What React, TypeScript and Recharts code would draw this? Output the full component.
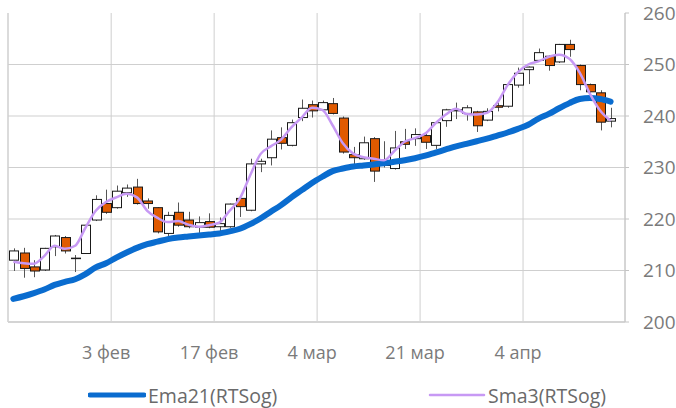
import {
  ComposedChart,
  Bar,
  Line,
  XAxis,
  YAxis,
  CartesianGrid,
  Legend,
  ReferenceLine,
} from "recharts";

// daily candles, RTSog
const OPEN = [
  212.0, 213.4, 210.7, 210.1, 214.6, 216.4, 212.3, 213.3, 219.8, 223.0,
  222.2, 225.1, 226.2, 223.5, 222.2, 217.2, 221.3, 219.8, 218.4, 219.5,
  218.5, 218.5, 224.0, 221.7, 230.7, 231.9, 235.8, 234.3, 239.7, 242.2,
  241.2, 242.4, 239.6, 232.5, 231.7, 235.6, 230.4, 229.8, 235.0, 235.6,
  236.2, 234.3, 239.1, 241.0, 240.5, 240.8, 239.2, 242.0, 241.9, 246.0,
  249.0, 250.8, 251.6, 250.5, 253.9, 249.8, 246.1, 244.5, 239.0,
];
const CLOSE = [
  213.8, 210.4, 209.9, 214.3, 216.7, 213.8, 212.4, 218.8, 223.8, 221.3,
  225.4, 226.0, 223.0, 223.0, 217.5, 220.7, 218.8, 218.5, 219.3, 218.4,
  219.1, 222.9, 222.4, 230.7, 231.2, 235.5, 234.7, 238.7, 241.5, 241.0,
  242.6, 240.5, 233.0, 231.9, 234.8, 229.3, 230.6, 233.8, 234.5, 236.4,
  234.9, 238.7, 241.2, 241.2, 241.6, 238.1, 240.9, 241.7, 246.1, 248.3,
  249.5, 252.3, 249.8, 253.9, 252.9, 246.1, 244.7, 238.8, 239.5,
];
const HIGH = [
  214.3, 214.4, 212.0, 214.4, 216.9, 216.7, 213.0, 218.9, 224.6, 225.7,
  226.5, 226.7, 227.8, 224.0, 222.3, 221.4, 223.2, 221.4, 220.5, 221.1,
  220.3, 223.0, 224.1, 231.7, 231.7, 237.2, 237.8, 239.3, 243.2, 243.0,
  243.0, 243.5, 239.9, 234.0, 236.0, 235.9, 235.1, 237.1, 237.5, 237.6,
  236.5, 238.9, 241.4, 242.6, 242.1, 241.0, 241.5, 242.6, 246.2, 249.4,
  249.6, 253.1, 251.8, 254.0, 254.8, 250.0, 246.3, 245.0, 241.6,
];
const LOW = [
  209.9, 208.6, 208.7, 209.9, 212.8, 213.3, 209.7, 213.2, 219.6, 221.0,
  222.0, 224.3, 222.8, 222.0, 217.2, 216.7, 218.5, 218.2, 217.3, 218.2,
  217.3, 218.3, 220.4, 221.5, 229.1, 230.4, 233.5, 234.1, 239.0, 239.7,
  241.0, 240.3, 232.7, 230.6, 231.5, 227.2, 230.0, 229.6, 233.6, 234.2,
  233.6, 233.6, 237.9, 239.4, 239.1, 236.9, 239.0, 240.9, 241.6, 245.5,
  246.2, 250.6, 248.8, 250.3, 251.5, 245.0, 244.4, 237.2, 237.8,
];
const EMA21 = [
  204.5, 205.0, 205.6, 206.3, 207.2, 207.8, 208.3, 209.3, 210.6, 211.4,
  212.5, 213.5, 214.4, 215.1, 215.6, 216.1, 216.4, 216.6, 216.8, 217.0,
  217.2, 217.6, 218.1, 219.0, 220.1, 221.4, 222.7, 224.2, 225.6, 227.0,
  228.2, 229.3, 229.8, 230.2, 230.4, 230.6, 230.8, 231.1, 231.4, 231.8,
  232.3, 232.9, 233.5, 234.1, 234.6, 235.1, 235.6, 236.2, 236.8, 237.5,
  238.3, 239.5, 240.4, 241.5, 242.5, 243.3, 243.5, 243.3, 242.8,
];
const SMA3 = [
  211.7, 211.4, 211.3, 212.8, 214.8, 214.2, 214.8, 218.3, 221.6, 223.3,
  224.2, 224.9, 224.2, 221.6, 220.2, 219.4, 219.6, 218.9, 218.5, 218.8,
  219.3, 221.6, 224.0, 228.5, 232.6, 234.1, 235.4, 237.8, 239.7, 241.6,
  241.2, 238.2, 234.7, 232.7, 232.0, 231.7, 231.4, 233.2, 235.0, 235.7,
  236.6, 238.6, 240.3, 241.4, 240.4, 240.3, 240.6, 242.6, 246.0, 248.5,
  250.0, 250.6, 251.5, 251.9, 251.1, 248.4, 244.3, 241.0, 239.1,
];

const DATE_LABELS = ["3 фев", "17 фев", "4 мар", "21 мар", "4 апр"];
const DATE_TICKS = [9.5, 19.5, 29.5, 39.5, 49.5];
const Y_TICKS = [200, 210, 220, 230, 240, 250, 260];
const X_MIN = -0.52;
const X_MAX = 59.4;

const FONT = "'Open Sans', sans-serif";
const ORANGE = "#e05a00";
const BLUE = "#0a6ccf";
const PURPLE = "#c799f4";
const GRID = "#cfcfcf";
const TEXT = "#7a7a7a";

const data = OPEN.map((open, i) => ({
  i,
  open,
  close: CLOSE[i],
  high: HIGH[i],
  low: LOW[i],
  range: [LOW[i], HIGH[i]],
  ema: EMA21[i],
  sma: SMA3[i],
}));

function Candle(props: any) {
  let { x, y, width, height } = props;
  const { open, close, high, low } = props.payload;
  if (height < 0) {
    y += height;
    height = -height;
  }
  const span = high - low || 1;
  const toY = (v: number) => y + ((high - v) / span) * height;
  const up = close >= open;
  const top = toY(Math.max(open, close));
  const bot = toY(Math.min(open, close));
  const cx = Math.round(x + width / 2) + 0.5;
  return (
    <g>
      <line x1={cx} x2={cx} y1={y} y2={y + height} stroke="#555" strokeWidth={1} />
      <rect
        x={Math.round(x) + 0.5}
        y={top}
        width={Math.round(width)}
        height={Math.max(bot - top, 0.5)}
        fill={up ? "#fff" : ORANGE}
        stroke="#1a1a1a"
        strokeWidth={1}
      />
    </g>
  );
}

function DateTick(props: any) {
  const { x, y, payload } = props;
  const idx = DATE_TICKS.indexOf(payload.value);
  return (
    <text
      x={x - 5}
      y={y + 29}
      textAnchor="middle"
      fill={TEXT}
      fontSize={18}
      fontFamily={FONT}
    >
      {DATE_LABELS[idx]}
    </text>
  );
}

function LegendBox(props: any) {
  const items = (props.payload || []).filter((p: any) => p.dataKey !== "range");
  return (
    <div style={{ display: "flex", height: 26, alignItems: "center", fontFamily: FONT }}>
      {items.map((p: any, k: number) => (
        <div
          key={p.value}
          style={{
            display: "flex",
            alignItems: "center",
            marginLeft: k === 0 ? 80 : 0,
            width: k === 0 ? 340 : 200,
          }}
        >
          <svg width={58} height={8} style={{ marginRight: 2 }}>
            <line
              x1={2}
              x2={56}
              y1={4}
              y2={4}
              stroke={p.color}
              strokeWidth={k === 0 ? 5 : 2.5}
              strokeLinecap="round"
            />
          </svg>
          <span style={{ fontSize: 19.5, color: "#6a6a6a" }}>{p.value}</span>
        </div>
      ))}
    </div>
  );
}

export default function App() {
  return (
    <div style={{ position: "absolute", left: 0, top: 0, background: "#fff" }}>
      <ComposedChart
        width={676}
        height={408}
        data={data}
        margin={{ top: 13, right: 0, bottom: 0, left: 8 }}
      >
        <CartesianGrid
          stroke={GRID}
          horizontalValues={[210, 220, 230, 240, 250]}
        />
        <ReferenceLine x={X_MIN} stroke={GRID} ifOverflow="visible" />
        <XAxis
          dataKey="i"
          type="number"
          domain={[X_MIN, X_MAX]}
          ticks={DATE_TICKS}
          allowDataOverflow
          tick={<DateTick />}
          tickLine={false}
          axisLine={{ stroke: "#d4d4d4", strokeWidth: 2 }}
          height={60}
        />
        <YAxis
          orientation="right"
          domain={[200, 260]}
          ticks={Y_TICKS}
          width={51}
          tickSize={4}
          tickMargin={14}
          axisLine={{ stroke: "#c4c4c4" }}
          tickLine={{ stroke: "#c4c4c4" }}
          tick={{ fill: TEXT, fontSize: 19, fontFamily: FONT }}
        />
        <Bar
          dataKey="range"
          barSize={9}
          shape={<Candle />}
          legendType="none"
          isAnimationActive={false}
        />
        <Line
          dataKey="ema"
          name="Ema21(RTSog)"
          type="monotone"
          stroke={BLUE}
          strokeWidth={6}
          strokeLinecap="round"
          dot={false}
          activeDot={false}
          isAnimationActive={false}
        />
        <Line
          dataKey="sma"
          name="Sma3(RTSog)"
          type="monotone"
          stroke={PURPLE}
          strokeWidth={2.5}
          dot={false}
          activeDot={false}
          isAnimationActive={false}
        />
        <Legend verticalAlign="bottom" content={<LegendBox />} />
      </ComposedChart>
    </div>
  );
}
